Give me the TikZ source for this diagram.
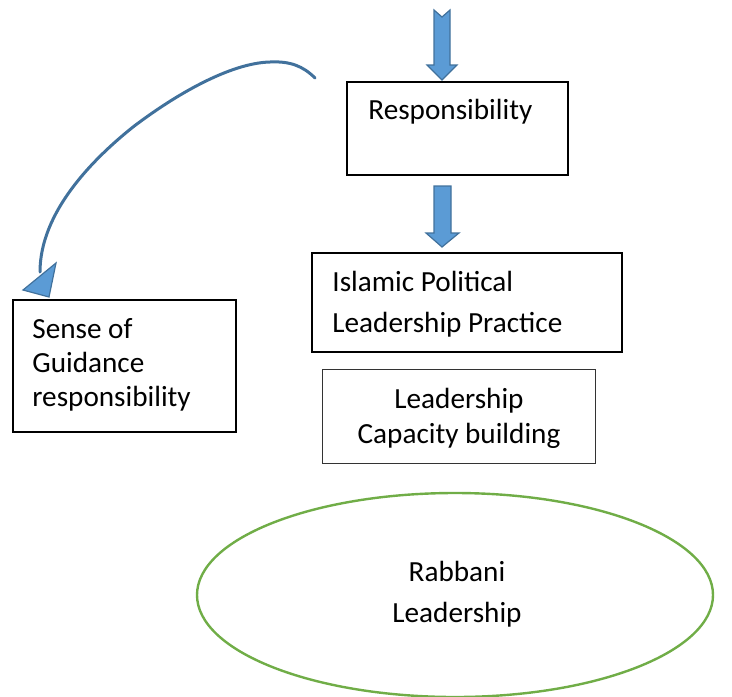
\documentclass[tikz,border=0pt]{standalone}
\usepackage{fontspec}
\setmainfont{Carlito}
\usetikzlibrary{calc}
\definecolor{arrowfill}{HTML}{5B9BD5}
\definecolor{arrowedge}{HTML}{41719C}
\definecolor{ringgreen}{HTML}{70AD47}
\begin{document}
\begin{tikzpicture}[x=0.5pt,y=-0.5pt,
  boxframe/.style={draw=black,line width=0.8pt,inner sep=0pt,fill=none},
  thinframe/.style={draw=black!80,line width=0.5pt,inner sep=0pt,fill=none},
  label/.style={inner sep=0pt,font=\fontsize{14.6}{17.5}\selectfont},
  blockarrow/.style={fill=arrowfill,draw=arrowedge,line width=0.6pt,line join=miter}]
\useasboundingbox (0,0) rectangle (732,696);

% boxes
\node[boxframe,minimum width=110.5pt,minimum height=46.5pt,anchor=north west] (resp) at (346,81) {};
\node[boxframe,minimum width=155pt,minimum height=49.5pt,anchor=north west] (islamic) at (311,252) {};
\node[thinframe,minimum width=136.5pt,minimum height=47pt,anchor=north west] (capacity) at (322,369) {};
\node[boxframe,minimum width=111.5pt,minimum height=66pt,anchor=north west] (sense) at (12,299) {};
\draw[ringgreen,line width=1.2pt] (455,595) ellipse [x radius=258,y radius=102];
\coordinate (rabbani) at (455,595);

% texts
\node[label,anchor=base west] (resp-t) at (368,119) {Responsibility};
\node[label,anchor=base west] (isl-t1) at (332,291) {Islamic Political};
\node[label,anchor=base west] (isl-t2) at (332,332) {Leadership Practice};
\node[label,anchor=base] (cap-t1) at (459,408) {Leadership};
\node[label,anchor=base] (cap-t2) at (459,443) {Capacity building};
\node[label,anchor=base west] (sense-t1) at (32,338) {Sense of};
\node[label,anchor=base west] (sense-t2) at (32,372) {Guidance};
\node[label,anchor=base west] (sense-t3) at (32,406) {responsibility};
\node[label,anchor=base] (rab-t1) at (457,581) {Rabbani};
\node[label,anchor=base] (rab-t2) at (457,622) {Leadership};

% block arrow entering the responsibility box (notched tail)
\draw[blockarrow] (434,10) -- (442,17) -- (450,10) -- (450,65) -- (457,65)
  -- (442,80) -- (427,65) -- (434,65) -- cycle;

% block arrow from responsibility to the practice box
\draw[blockarrow] (434,186) -- (451,186) -- (451,233) -- (459,233)
  -- (442,247) -- (426,233) -- (434,233) -- cycle;

% curved connector towards the guidance box
\coordinate (curve-start) at (315,78);
\coordinate (curve-top) at (270,62);
\coordinate (curve-mid) at (133,127);
\coordinate (curve-end) at (40,272);
\draw[arrowedge,line width=1.5pt,line cap=round]
  (curve-start) .. controls (303,66) and (290,61) .. (curve-top)
  .. controls (230,63) and (175,95) .. (curve-mid)
  .. controls (93,159) and (40,212) .. (curve-end);
\draw[blockarrow] (23,290) -- (56,263) -- (49,297) -- cycle;
\end{tikzpicture}
\end{document}
